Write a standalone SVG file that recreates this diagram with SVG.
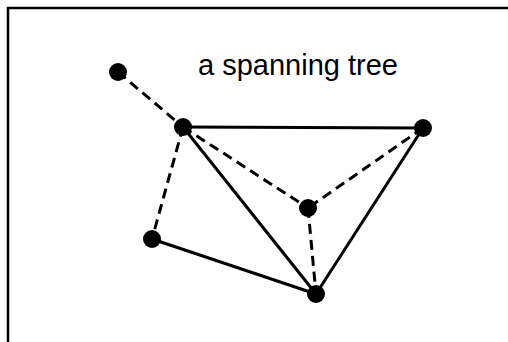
<svg xmlns="http://www.w3.org/2000/svg" width="508" height="342" viewBox="0 0 508 342">
<style>
.edge{stroke:#000;stroke-width:3;fill:none;stroke-linecap:butt}
.dash{stroke-dasharray:10 6}
.node{fill:#000}
.title{font-family:"Liberation Sans",Arial,sans-serif;font-size:29px;fill:#000}
</style>
<rect width="508" height="342" fill="#fff"/>
<g id="frame">
<path d="M8,342 V8 H508" stroke="#000" stroke-width="2.5" fill="none"/>
</g>
<text class="title" x="198" y="75">a spanning tree</text>
<g id="connectors">
<line class="edge dash" x1="118" y1="72" x2="183" y2="127"/>
<line class="edge" x1="183" y1="127" x2="423" y2="128"/>
<line class="edge dash" x1="183" y1="127" x2="308" y2="208"/>
<line class="edge dash" x1="183" y1="127" x2="152" y2="239"/>
<line class="edge" x1="183" y1="127" x2="316" y2="294"/>
<line class="edge dash" x1="423" y1="128" x2="308" y2="208"/>
<line class="edge" x1="423" y1="128" x2="316" y2="294"/>
<line class="edge dash" x1="308" y1="208" x2="316" y2="294"/>
<line class="edge" x1="152" y1="239" x2="316" y2="294"/>
</g>
<g id="nodeA"><circle class="node" cx="118" cy="72" r="9"/></g>
<g id="nodeB"><circle class="node" cx="183" cy="127" r="9"/></g>
<g id="nodeC"><circle class="node" cx="152" cy="239" r="9"/></g>
<g id="nodeD"><circle class="node" cx="308" cy="208" r="9"/></g>
<g id="nodeE"><circle class="node" cx="316" cy="294" r="9"/></g>
<g id="nodeF"><circle class="node" cx="423" cy="128" r="9"/></g>
</svg>
